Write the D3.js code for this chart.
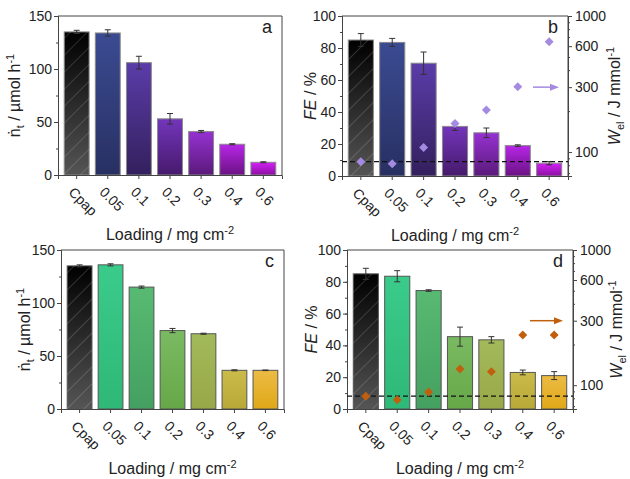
<!DOCTYPE html>
<html>
<head>
<meta charset="utf-8">
<script src="https://cdn.jsdelivr.net/npm/d3@7"></script>
<style>
  body { margin: 0; background: #fff; }
  svg text { font-family: "Liberation Sans", Arial, sans-serif; fill: #222; }
</style>
</head>
<body>
<div class="canvas"></div>
<script>
// Data
const categories = ["Cpap", "0.05", "0.1", "0.2", "0.3", "0.4", "0.6"];

// panel a: production rate (umol/h)
const rateA = [135, 134, 106, 53, 41, 29, 12];
const rateAErr = [1.5, 3, 6, 5, 1, 0.5, 0.5];
// panel b: faradaic efficiency (%) and electrical work (J/mmol)
const feB = [85, 83.5, 70.5, 31, 27, 19, 8];
const feBErr = [4, 2.5, 7, 2.5, 3, 0.5, 1];
const wB = [85, 82, 108, 162, 204, 302, 647];
// panel c
const rateC = [135, 136, 115, 74, 71, 36.5, 36.5];
const rateCErr = [1, 1, 1, 2, 0.5, 0.5, 0.3];
// panel d
const feD = [85, 83.5, 74.5, 45.5, 43.5, 23, 21];
const feDErr = [3.5, 3.5, 0.5, 6, 2, 1.5, 2.5];
const wD = [83, 78, 89, 132, 126, 235, 235];

const rateTicks = [0, 50, 100, 150];
const feTicks = [0, 20, 40, 60, 80, 100];
const wTicks = [100, 300, 600, 1000];

// colours (top, bottom of each bar gradient)
const purpleTop = ["#000000", "#3b4b92", "#5b3ca9", "#7335bb", "#9631d2", "#b726e8", "#d421f6"];
const purpleBot = ["#555555", "#283062", "#33205d", "#461a6c", "#5a1a7a", "#6b1283", "#8b10a2"];
const greenTop = ["#000000", "#3acb8a", "#58ba72", "#7aba62", "#a3ba5a", "#cbbb4a", "#ecbb44"];
const greenBot = ["#555555", "#2fb878", "#44a060", "#66a848", "#98a848", "#b8a838", "#e0a818"];

const W = 630, H = 479;
const svg = d3.select('.canvas')
    .append('svg')
    .attr('width', W)
    .attr('height', H);

const defs = svg.append('defs');

// hatching for the Cpap reference bar
const hatch = defs.append('pattern')
    .attr('id', 'hatch')
    .attr('patternUnits', 'userSpaceOnUse')
    .attr('width', 12).attr('height', 12)
    .attr('patternTransform', 'rotate(45)');
hatch.append('line')
    .attr('x1', 0).attr('y1', 0).attr('x2', 0).attr('y2', 12)
    .attr('stroke', '#fff').attr('stroke-opacity', 0.3).attr('stroke-width', 1);

function makeGradients(prefix, tops, bots) {
    tops.forEach((t, i) => {
        const g = defs.append('linearGradient')
            .attr('id', `${prefix}${i}`)
            .attr('x1', 0).attr('y1', 0).attr('x2', 0).attr('y2', 1);
        g.append('stop').attr('offset', '0%').attr('stop-color', t);
        g.append('stop').attr('offset', '100%').attr('stop-color', bots[i]);
    });
}
makeGradients('pg', purpleTop, purpleBot);
makeGradients('gg', greenTop, greenBot);

function drawPanel(p) {
    const g = svg.append('g');

    const x = d3.scaleBand()
        .domain(categories)
        .range([p.left, p.right])
        .paddingInner(0.2)
        .paddingOuter(0.2);

    const y = d3.scaleLinear()
        .domain(p.yDomain)
        .range([p.bottom, p.top]);

    // bars
    g.selectAll('rect.bar')
        .data(p.values)
        .enter()
        .append('rect')
        .attr('class', 'bar')
        .attr('x', (d, i) => x(categories[i]))
        .attr('y', d => y(d))
        .attr('width', x.bandwidth())
        .attr('height', d => y(0) - y(d))
        .attr('fill', (d, i) => `url(#${p.grad}${i})`)
        .attr('stroke', p.barStroke)
        .attr('stroke-width', 1);

    // hatch over Cpap
    g.append('rect')
        .attr('x', x(categories[0]))
        .attr('y', y(p.values[0]))
        .attr('width', x.bandwidth())
        .attr('height', y(0) - y(p.values[0]))
        .attr('fill', 'url(#hatch)');

    // error bars
    const eb = g.selectAll('g.err')
        .data(p.values)
        .enter()
        .append('g')
        .attr('stroke', '#333')
        .attr('stroke-width', 1);
    const cx = i => x(categories[i]) + x.bandwidth() / 2;
    eb.append('line')
        .attr('x1', (d, i) => cx(i)).attr('x2', (d, i) => cx(i))
        .attr('y1', (d, i) => y(d - p.err[i])).attr('y2', (d, i) => y(d + p.err[i]));
    eb.append('line')
        .attr('x1', (d, i) => cx(i) - 3).attr('x2', (d, i) => cx(i) + 3)
        .attr('y1', (d, i) => y(d + p.err[i])).attr('y2', (d, i) => y(d + p.err[i]));
    eb.append('line')
        .attr('x1', (d, i) => cx(i) - 3).attr('x2', (d, i) => cx(i) + 3)
        .attr('y1', (d, i) => y(d - p.err[i])).attr('y2', (d, i) => y(d - p.err[i]));

    // left axis, major + minor
    const yMinor = d3.range(p.yDomain[0], p.yDomain[1] + 0.01, p.minorStep);
    g.append('g')
        .attr('transform', `translate(${p.left},0)`)
        .call(d3.axisLeft(y).tickValues(yMinor).tickSize(2).tickFormat(''));
    g.append('g')
        .attr('transform', `translate(${p.left},0)`)
        .call(d3.axisLeft(y).tickValues(p.yTicks).tickSize(4).tickPadding(2))
        .selectAll('text').style('font-size', '14px');

    // bottom axis
    g.append('g')
        .attr('transform', `translate(0,${p.bottom})`)
        .call(d3.axisBottom(x).tickSize(4).tickFormat(''));
    g.selectAll('text.xl')
        .data(categories)
        .enter()
        .append('text')
        .attr('class', 'xl')
        .attr('transform', d => `translate(${x(d) + x.bandwidth() / 2 - 9},${p.bottom + 18}) rotate(45)`)
        .style('font-size', '14px')
        .text(d => d);

    // frame top / right
    g.append('line')
        .attr('x1', p.left).attr('x2', p.right)
        .attr('y1', p.top).attr('y2', p.top)
        .attr('stroke', '#444');
    g.append('line')
        .attr('x1', p.right).attr('x2', p.right)
        .attr('y1', p.top).attr('y2', p.bottom)
        .attr('stroke', '#444');

    // right log axis with W_el points
    if (p.w) {
        const yw = d3.scaleLog()
            .domain([66.7, 1000])
            .range([p.bottom, p.top]);
        const minor = [70, 80, 90, 200, 400, 500, 700, 800, 900];
        g.append('g')
            .attr('transform', `translate(${p.right},0)`)
            .call(d3.axisRight(yw).tickValues(minor).tickSize(2).tickFormat(''));
        g.append('g')
            .attr('transform', `translate(${p.right},0)`)
            .call(d3.axisRight(yw).tickValues(wTicks).tickSize(4).tickPadding(3).tickFormat(d3.format('d')))
            .selectAll('text').style('font-size', '14px');

        // dashed reference line at Cpap level
        g.append('line')
            .attr('x1', p.left).attr('x2', p.right)
            .attr('y1', yw(p.w[0])).attr('y2', yw(p.w[0]))
            .attr('stroke', '#111')
            .attr('stroke-width', 1.2)
            .attr('stroke-dasharray', '5,3');

        g.selectAll('path.dia')
            .data(p.w)
            .enter()
            .append('path')
            .attr('class', 'dia')
            .attr('d', d3.symbol(d3.symbolSquare, 40)())
            .attr('transform', (d, i) => `translate(${cx(i)},${yw(d)}) rotate(45)`)
            .attr('fill', p.wColor);

        // arrow pointing at the right axis
        const ay = yw(300);
        g.append('line')
            .attr('x1', p.arrow[0]).attr('x2', p.arrow[1] - 7)
            .attr('y1', ay).attr('y2', ay)
            .attr('stroke', p.wColor).attr('stroke-width', 1.5);
        g.append('path')
            .attr('d', `M${p.arrow[1]},${ay} l-9,-3.5 l0,7 z`)
            .attr('fill', p.wColor);

        // right title
        const rt = g.append('text')
            .attr('transform', `translate(${p.rightTitleX},${(p.top + p.bottom) / 2}) rotate(-90)`)
            .attr('text-anchor', 'middle')
            .style('font-size', '16px');
        rt.append('tspan').style('font-style', 'italic').text('W');
        rt.append('tspan').attr('dy', 4).style('font-size', '11px').text('el');
        rt.append('tspan').attr('dy', -4).text(' / J mmol');
        rt.append('tspan').attr('dy', -6).style('font-size', '11px').text('-1');
    }

    g.selectAll('.domain').attr('stroke', '#444');
    g.selectAll('.tick line').attr('stroke', '#444');

    // left title
    const lt = g.append('text')
        .attr('transform', `translate(${p.leftTitleX},${(p.top + p.bottom) / 2}) rotate(-90)`)
        .attr('text-anchor', 'middle')
        .style('font-size', '16px');
    if (p.w) {
        lt.append('tspan').style('font-style', 'italic').text('FE');
        lt.append('tspan').text(' / %');
    } else {
        lt.append('tspan').text('\u1E45');
        lt.append('tspan').attr('dy', 4).style('font-size', '11px').text('t');
        lt.append('tspan').attr('dy', -4).text(' / \u00B5mol h');
        lt.append('tspan').attr('dy', -6).style('font-size', '11px').text('-1');
    }

    // bottom title
    const bt = g.append('text')
        .attr('x', (p.left + p.right) / 2)
        .attr('y', p.bottom + 65)
        .attr('text-anchor', 'middle')
        .style('font-size', '16px');
    bt.append('tspan').text('Loading / mg cm');
    bt.append('tspan').attr('dy', -6).style('font-size', '11px').text('-2');

    // panel letter
    g.append('text')
        .attr('x', p.right - 10)
        .attr('y', p.top + 17)
        .attr('text-anchor', 'end')
        .style('font-size', '18px')
        .text(p.letter);
}

drawPanel({letter: 'a', left: 58, right: 282, top: 16, bottom: 175,
    values: rateA, err: rateAErr, yDomain: [0, 150], yTicks: rateTicks, minorStep: 25,
    grad: 'pg', barStroke: '#8a8a8a', leftTitleX: 20});
drawPanel({letter: 'b', left: 342, right: 568, top: 16, bottom: 176,
    values: feB, err: feBErr, yDomain: [0, 100], yTicks: feTicks, minorStep: 10,
    grad: 'pg', barStroke: '#8a8a8a', leftTitleX: 316,
    w: wB, wColor: '#a48ae0', arrow: [533, 559], rightTitleX: 620});
drawPanel({letter: 'c', left: 61, right: 284, top: 250, bottom: 409,
    values: rateC, err: rateCErr, yDomain: [0, 150], yTicks: rateTicks, minorStep: 25,
    grad: 'gg', barStroke: '#555', leftTitleX: 30});
drawPanel({letter: 'd', left: 347, right: 573, top: 250, bottom: 409,
    values: feD, err: feDErr, yDomain: [0, 100], yTicks: feTicks, minorStep: 10,
    grad: 'gg', barStroke: '#555', leftTitleX: 317,
    w: wD, wColor: '#c0600f', arrow: [530, 563], rightTitleX: 622});
</script>
</body>
</html>
